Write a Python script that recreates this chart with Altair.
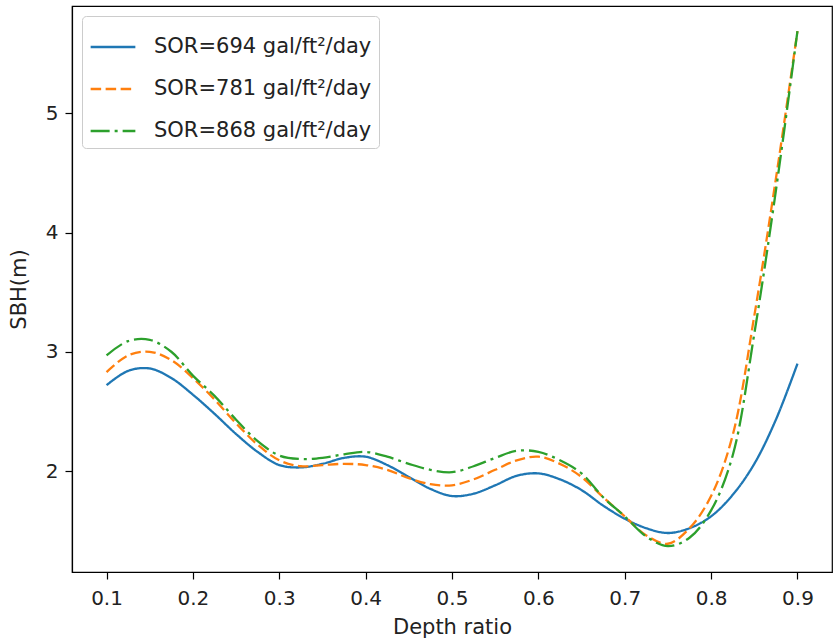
import altair as alt
import pandas as pd

depth = [0.100, 0.125, 0.150, 0.175, 0.200, 0.225, 0.250, 0.275, 0.300, 0.325,
         0.350, 0.375, 0.400, 0.425, 0.450, 0.475, 0.500, 0.525, 0.550, 0.575,
         0.600, 0.625, 0.650, 0.675, 0.700, 0.725, 0.750, 0.775, 0.800, 0.825,
         0.850, 0.875, 0.900]

sbh_694 = [2.72, 2.84, 2.86, 2.78, 2.64, 2.48, 2.31, 2.16, 2.05, 2.03,
           2.06, 2.11, 2.12, 2.05, 1.95, 1.85, 1.79, 1.81, 1.88, 1.96,
           1.98, 1.93, 1.84, 1.71, 1.60, 1.52, 1.48, 1.52, 1.62, 1.80,
           2.06, 2.43, 2.90]

sbh_781 = [2.83, 2.97, 3.00, 2.93, 2.78, 2.60, 2.40, 2.22, 2.09, 2.04,
           2.05, 2.06, 2.05, 2.01, 1.94, 1.89, 1.88, 1.93, 2.01, 2.09,
           2.12, 2.06, 1.95, 1.78, 1.62, 1.46, 1.39, 1.52, 1.79, 2.30,
           3.30, 4.45, 5.69]

sbh_868 = [2.97, 3.09, 3.10, 3.00, 2.80, 2.63, 2.43, 2.25, 2.13, 2.10,
           2.11, 2.14, 2.16, 2.12, 2.06, 2.01, 1.99, 2.04, 2.11, 2.17,
           2.16, 2.09, 1.98, 1.78, 1.62, 1.45, 1.37, 1.44, 1.67, 2.13,
           3.15, 4.35, 5.69]

series_names = ["SOR=694 gal/ft\u00b2/day", "SOR=781 gal/ft\u00b2/day", "SOR=868 gal/ft\u00b2/day"]
series_values = [sbh_694, sbh_781, sbh_868]
colors = ["#1f77b4", "#ff7f0e", "#2ca02c"]
dashes = [[1, 0], [10.5, 4.5], [19, 5, 3, 5]]

x_ticks = [0.1, 0.2, 0.3, 0.4, 0.5, 0.6, 0.7, 0.8, 0.9]
y_ticks = [2, 3, 4, 5]

rows = []
for name, vals in zip(series_names, series_values):
    for d, v in zip(depth, vals):
        rows.append({"depth": d, "sbh": v, "series": name})
df = pd.DataFrame(rows)

font = "DejaVu Sans"

legend = alt.Legend(
    title=None, orient="none", legendX=10, legendY=10,
    symbolType="stroke", symbolStrokeWidth=2.5, symbolSize=2000,
    labelFontSize=21, labelFont=font, labelColor="#222", labelLimit=500,
    rowPadding=8, padding=7, fillColor="white", strokeColor="#cccccc",
    cornerRadius=4, labelOffset=17,
)

chart = alt.Chart(df).mark_line(strokeWidth=2.3, interpolate="catmull-rom").encode(
    x=alt.X("depth:Q", title="Depth ratio",
            scale=alt.Scale(domain=[0.06, 0.94], nice=False, zero=False),
            axis=alt.Axis(values=x_ticks, format=".1f", labelPadding=9, titlePadding=8)),
    y=alt.Y("sbh:Q", title="SBH(m)",
            scale=alt.Scale(domain=[1.153, 5.90], nice=False, zero=False),
            axis=alt.Axis(values=y_ticks, format="d", labelPadding=7, titlePadding=16)),
    color=alt.Color("series:N", scale=alt.Scale(domain=series_names, range=colors), legend=legend),
    strokeDash=alt.StrokeDash("series:N", scale=alt.Scale(domain=series_names, range=dashes), legend=legend),
    order="depth:Q",
).properties(
    width=760, height=566,
    autosize=alt.AutoSizeParams(type="none"),
    padding={"left": 72, "top": 6, "right": 6, "bottom": 69},
).configure_view(
    stroke="#000000", strokeWidth=1.2
).configure_axis(
    grid=False, domain=True, domainColor="#000000", domainWidth=1.2,
    tickColor="#000000", tickSize=7, tickWidth=1.2,
    labelFont=font, labelFontSize=20, labelColor="#222",
    titleFont=font, titleFontSize=21, titleFontWeight="normal", titleColor="#222",
)

chart.save("out.html", embed_options={"renderer": "svg", "actions": False})
